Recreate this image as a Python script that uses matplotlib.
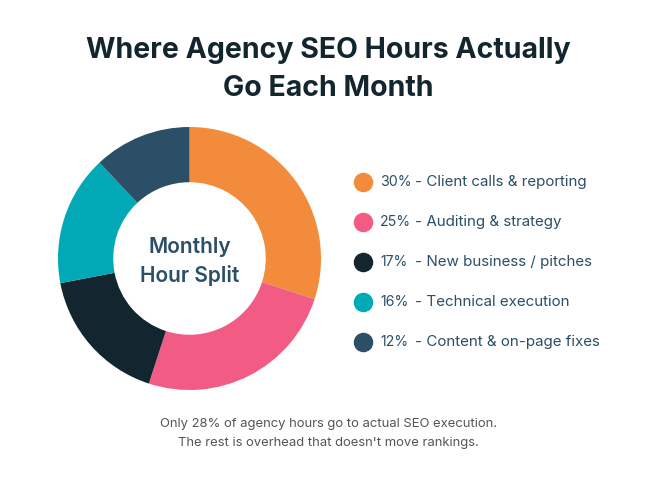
import matplotlib.pyplot as plt

plt.rcParams['font.family'] = ['Inter', 'DejaVu Sans']

# Data
labels = ["Client calls & reporting", "Auditing & strategy", "New business / pitches",
          "Technical execution", "Content & on-page fixes"]
shares = [30, 25, 17, 16, 12]
colors = ["#F28C3C", "#F25C84", "#13262F", "#00A9B5", "#2B4F66"]

W, H = 656, 492
fig = plt.figure(figsize=(W / 100, H / 100), dpi=100)
fig.patch.set_facecolor("white")

# overlay axes in pixel coordinates for text and legend dots
ov = fig.add_axes([0, 0, 1, 1])
ov.set_xlim(0, W)
ov.set_ylim(H, 0)
ov.axis("off")

# donut
ax = fig.add_axes([57 / W, (H - 390) / H, 265 / W, 263 / H])
ax.pie(shares, colors=colors, startangle=90, counterclock=False,
       wedgeprops=dict(width=0.42, edgecolor="none"))
ax.set_xlim(-1, 1)
ax.set_ylim(-1, 1)
ax.set_aspect("equal")

ax.text(0, 0.09, "Monthly", ha="center", va="center", fontsize=15,
        fontweight="semibold", color="#2B4F66")
ax.text(0, -0.13, "Hour Split", ha="center", va="center", fontsize=15,
        fontweight="semibold", color="#2B4F66")

# title
ov.text(W / 2, 50, "Where Agency SEO Hours Actually", ha="center", va="center",
        fontsize=20.5, fontweight="bold", color="#13262F")
ov.text(W / 2, 89, "Go Each Month", ha="center", va="center",
        fontsize=20.5, fontweight="bold", color="#13262F")

# legend
for i, (lab, s, c) in enumerate(zip(labels, shares, colors)):
    y = 182 + i * 40
    ov.scatter([363], [y], s=170, color=c, zorder=3)
    ov.text(380, y, f"{s}%", ha="left", va="center", fontsize=10.2, color="#2B4F66")
    ov.text(415, y, f"- {lab}", ha="left", va="center", fontsize=10.9, color="#2B4F66")

# footer
ov.text(W / 2, 424, "Only 28% of agency hours go to actual SEO execution.",
        ha="center", va="center", fontsize=9.4, color="#555555")
ov.text(W / 2, 443, "The rest is overhead that doesn't move rankings.",
        ha="center", va="center", fontsize=9.4, color="#555555")

fig.savefig("out.png", dpi=100, facecolor="white")
